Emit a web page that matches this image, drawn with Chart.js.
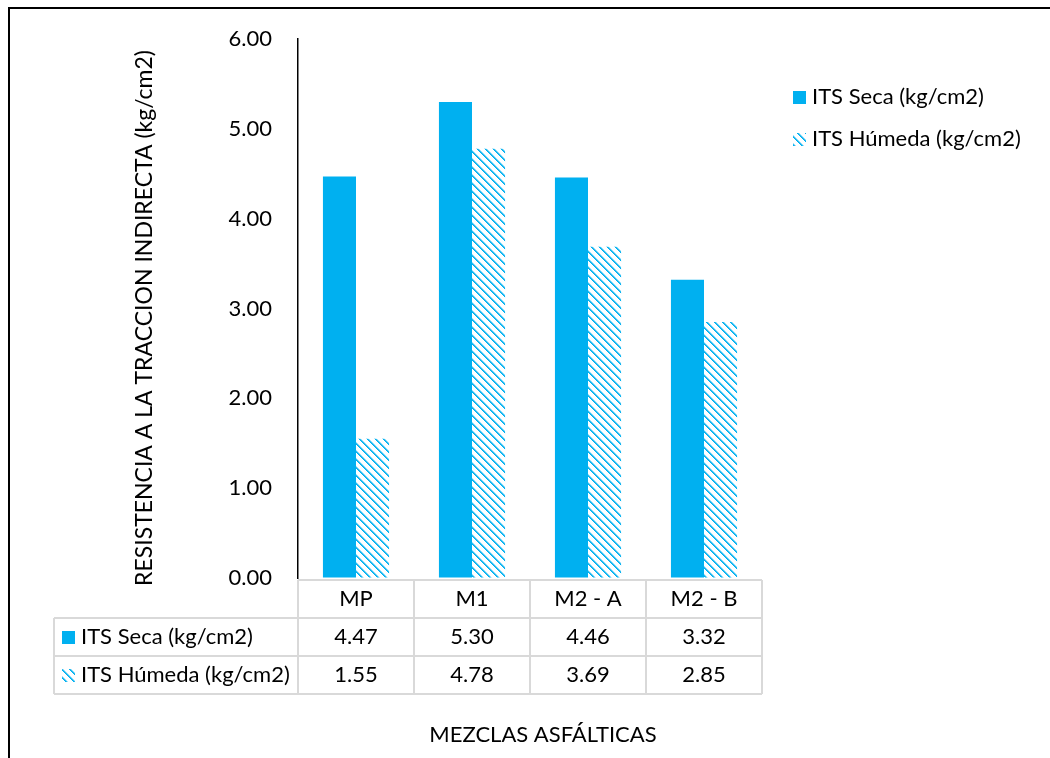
<!DOCTYPE html>
<html>
<head>
<meta charset="utf-8">
<script src="https://cdn.jsdelivr.net/npm/chart.js@4.4.1/dist/chart.umd.min.js"></script>
<style>
  html, body { margin: 0; padding: 0; background: #fff; }
  canvas { display: block; }
</style>
</head>
<body>
<canvas id="chart" width="1050" height="758"></canvas>
<script>
// Mixtures and indirect tensile strength results
const categories = ['MP', 'M1', 'M2 - A', 'M2 - B'];
const seriesLabels = ['ITS Seca (kg/cm2)', 'ITS Húmeda (kg/cm2)'];
const itsSeca = [4.47, 5.30, 4.46, 3.32];
const itsHumeda = [1.55, 4.78, 3.69, 2.85];
const yAxisTitle = 'RESISTENCIA A LA TRACCION INDIRECTA (kg/cm2)';
const xAxisTitle = 'MEZCLAS ASFÁLTICAS';
const yMin = 0, yMax = 6, yStep = 1;

const BLUE = '#00B0F0';
const FONT = 'Lato, "Open Sans", sans-serif';
const FS = 22;

const canvas = document.getElementById('chart');
const ctx = canvas.getContext('2d');

// Wide downward-diagonal hatch used for the wet series
function makeHatch() {
  const t = document.createElement('canvas');
  t.width = 8; t.height = 8;
  const g = t.getContext('2d');
  g.fillStyle = '#ffffff';
  g.fillRect(0, 0, 8, 8);
  const shades = { 0: BLUE, 1: '#2BBDF2', 2: '#A8E4FA' };
  for (let y = 0; y < 8; y++) {
    for (let x = 0; x < 8; x++) {
      const d = ((x - y) % 8 + 8) % 8;
      if (shades[d]) { g.fillStyle = shades[d]; g.fillRect(x, y, 1, 1); }
    }
  }
  return ctx.createPattern(t, 'repeat');
}
const hatch = makeHatch();
const fills = [BLUE, hatch];

function swatch(c, i, x, yc) {
  c.fillStyle = fills[i];
  c.fillRect(x, yc - 6, 13, 13);
}

const decor = {
  id: 'decor',
  beforeDraw(chart) {
    const c = chart.ctx;
    c.save();
    c.fillStyle = '#fff';
    c.fillRect(0, 0, chart.width, chart.height);
    // frame
    c.strokeStyle = '#000';
    c.lineWidth = 2;
    c.beginPath();
    c.moveTo(chart.width, 8);
    c.lineTo(9, 8);
    c.lineTo(9, chart.height);
    c.stroke();
    c.restore();
  },
  afterDraw(chart) {
    const c = chart.ctx;
    const area = chart.chartArea;
    const xs = chart.scales.x;
    const n = categories.length;
    const colW = (xs.right - xs.left) / n;
    const rowH = 38;
    const top = area.bottom + 2;
    const tableLeft = 54;
    const rows = [itsSeca, itsHumeda];
    const bottom = top + rowH * (rows.length + 1);

    c.save();
    // data table grid
    c.strokeStyle = '#D9D9D9';
    c.lineWidth = 2;
    c.beginPath();
    c.moveTo(xs.left, top); c.lineTo(xs.right, top);
    for (let r = 1; r <= rows.length + 1; r++) {
      const y = top + rowH * r;
      c.moveTo(tableLeft, y); c.lineTo(xs.right, y);
    }
    for (let i = 0; i <= n; i++) {
      const x = xs.left + colW * i;
      c.moveTo(x, top); c.lineTo(x, bottom);
    }
    c.moveTo(tableLeft, top + rowH); c.lineTo(tableLeft, bottom);
    c.stroke();

    c.fillStyle = '#000';
    c.font = FS + 'px ' + FONT;
    c.textBaseline = 'middle';
    c.textAlign = 'center';
    categories.forEach((cat, i) => {
      c.fillText(cat, xs.getPixelForValue(i), top + rowH / 2);
    });
    rows.forEach((vals, r) => {
      const yc = top + rowH * (r + 1) + rowH / 2;
      c.textAlign = 'center';
      c.fillStyle = '#000';
      vals.forEach((v, i) => c.fillText(v.toFixed(2), xs.getPixelForValue(i), yc));
      swatch(c, r, 62, yc);
      c.fillStyle = '#000';
      c.textAlign = 'left';
      c.fillText(seriesLabels[r], 81, yc);
    });

    // legend
    seriesLabels.forEach((lab, i) => {
      const yc = 97 + i * 42;
      swatch(c, i, 793, yc);
      c.fillStyle = '#000';
      c.textAlign = 'left';
      c.fillText(lab, 812, yc);
    });

    // axis titles
    c.textAlign = 'center';
    c.fillText(xAxisTitle, 543, 735);
    c.font = '23px ' + FONT;
    c.translate(145, 318);
    c.rotate(-Math.PI / 2);
    c.fillText(yAxisTitle, 0, 0);
    c.restore();
  }
};

new Chart(ctx, {
  type: 'bar',
  data: {
    labels: categories,
    datasets: [
      { label: seriesLabels[0], data: itsSeca, backgroundColor: BLUE, borderWidth: 0 },
      { label: seriesLabels[1], data: itsHumeda, backgroundColor: hatch, borderWidth: 0 }
    ]
  },
  options: {
    responsive: false,
    devicePixelRatio: 1,
    animation: false,
    datasets: { bar: { categoryPercentage: 0.57, barPercentage: 1.0 } },
    layout: { padding: { left: 0, top: 38, right: 288, bottom: 180 } },
    plugins: {
      legend: { display: false },
      tooltip: { enabled: false },
      title: { display: false }
    },
    scales: {
      x: {
        ticks: { display: false },
        grid: { display: false },
        border: { display: false },
        afterFit(s) { s.height = 0; }
      },
      y: {
        min: yMin,
        max: yMax,
        ticks: {
          stepSize: yStep,
          padding: 26,
          color: '#000',
          font: { family: FONT, size: FS },
          callback: v => Number(v).toFixed(2)
        },
        grid: { drawOnChartArea: false, drawTicks: false },
        border: { display: true, color: '#000', width: 1.5 },
        afterFit(s) { s.width = 298; }
      }
    }
  },
  plugins: [decor]
});
</script>
</body>
</html>
